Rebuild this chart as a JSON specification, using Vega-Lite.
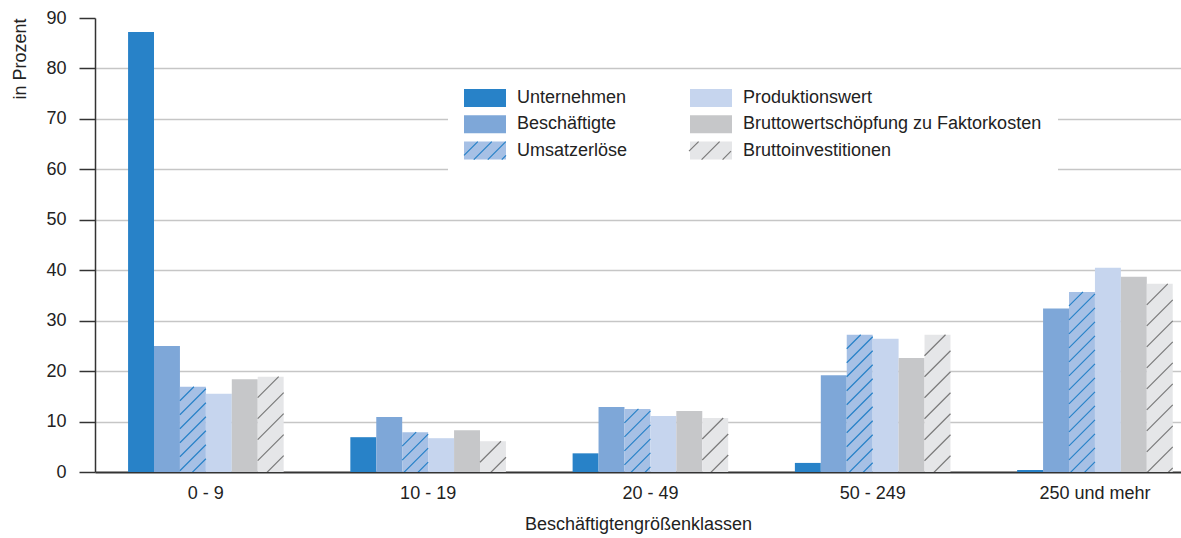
{
  "$schema": "https://vega.github.io/schema/vega-lite/v6.json",
  "width": 1086,
  "height": 454,
  "autosize": {"type": "none"},
  "padding": {"left": 95, "top": 18, "right": 0, "bottom": 66},
  "background": "white",
  "config": {
    "font": "Liberation Sans",
    "view": {"stroke": null},
    "axis": {"labelFont": "Liberation Sans", "titleFont": "Liberation Sans"},
    "legend": {"labelFont": "Liberation Sans"}
  },
  "data": {
    "values": [
      {"group": "0 - 9", "series": "Unternehmen", "value": 87.2},
      {"group": "0 - 9", "series": "Beschäftigte", "value": 25.0},
      {"group": "0 - 9", "series": "Umsatzerlöse", "value": 16.9},
      {"group": "0 - 9", "series": "Produktionswert", "value": 15.5},
      {"group": "0 - 9", "series": "Bruttowertschöpfung zu Faktorkosten", "value": 18.4},
      {"group": "0 - 9", "series": "Bruttoinvestitionen", "value": 18.9},
      {"group": "10 - 19", "series": "Unternehmen", "value": 6.9},
      {"group": "10 - 19", "series": "Beschäftigte", "value": 10.9},
      {"group": "10 - 19", "series": "Umsatzerlöse", "value": 7.9},
      {"group": "10 - 19", "series": "Produktionswert", "value": 6.7},
      {"group": "10 - 19", "series": "Bruttowertschöpfung zu Faktorkosten", "value": 8.3},
      {"group": "10 - 19", "series": "Bruttoinvestitionen", "value": 6.1},
      {"group": "20 - 49", "series": "Unternehmen", "value": 3.7},
      {"group": "20 - 49", "series": "Beschäftigte", "value": 12.9},
      {"group": "20 - 49", "series": "Umsatzerlöse", "value": 12.5},
      {"group": "20 - 49", "series": "Produktionswert", "value": 11.1},
      {"group": "20 - 49", "series": "Bruttowertschöpfung zu Faktorkosten", "value": 12.1},
      {"group": "20 - 49", "series": "Bruttoinvestitionen", "value": 10.7},
      {"group": "50 - 249", "series": "Unternehmen", "value": 1.8},
      {"group": "50 - 249", "series": "Beschäftigte", "value": 19.2},
      {"group": "50 - 249", "series": "Umsatzerlöse", "value": 27.2},
      {"group": "50 - 249", "series": "Produktionswert", "value": 26.4},
      {"group": "50 - 249", "series": "Bruttowertschöpfung zu Faktorkosten", "value": 22.6},
      {"group": "50 - 249", "series": "Bruttoinvestitionen", "value": 27.2},
      {"group": "250 und mehr", "series": "Unternehmen", "value": 0.4},
      {"group": "250 und mehr", "series": "Beschäftigte", "value": 32.4},
      {"group": "250 und mehr", "series": "Umsatzerlöse", "value": 35.7},
      {"group": "250 und mehr", "series": "Produktionswert", "value": 40.5},
      {"group": "250 und mehr", "series": "Bruttowertschöpfung zu Faktorkosten", "value": 38.7},
      {"group": "250 und mehr", "series": "Bruttoinvestitionen", "value": 37.3}
    ]
  },
  "encoding": {
    "x": {
      "field": "group",
      "type": "nominal",
      "sort": ["0 - 9", "10 - 19", "20 - 49", "50 - 249", "250 und mehr"],
      "scale": {"domain": ["0 - 9", "10 - 19", "20 - 49", "50 - 249", "250 und mehr"], "paddingInner": 0.3, "paddingOuter": 0.093, "align": 0.8},
      "axis": {
        "title": "Beschäftigtengrößenklassen",
        "labelAngle": 0,
        "ticks": false,
        "tickSize": 0,
        "domainColor": "#333333",
        "domainWidth": 2,
        "labelFontSize": 18,
        "labelColor": "#222222",
        "labelPadding": 12,
        "titleFontSize": 18,
        "titleFontWeight": "normal",
        "titleColor": "#222222",
        "titlePadding": 13,
        "grid": false
      }
    },
    "xOffset": {
      "field": "series",
      "type": "nominal",
      "scale": {"domain": ["Unternehmen", "Beschäftigte", "Umsatzerlöse", "Produktionswert", "Bruttowertschöpfung zu Faktorkosten", "Bruttoinvestitionen"], "paddingInner": 0, "paddingOuter": 0}
    },
    "y": {
      "field": "value",
      "type": "quantitative",
      "scale": {"domain": [0, 90], "nice": false},
      "axis": {
        "title": "in Prozent",
        "titleAnchor": "end",
        "titleFontSize": 18,
        "titleFontWeight": "normal",
        "titleColor": "#222222",
        "titlePadding": 16,
        "values": [0, 10, 20, 30, 40, 50, 60, 70, 80, 90],
        "tickSize": 16,
        "tickColor": "#333333",
        "tickWidth": 1.5,
        "domainColor": "#333333",
        "domainWidth": 1.5,
        "labelFontSize": 18,
        "labelColor": "#222222",
        "labelPadding": 13,
        "labelFlush": false,
        "gridColor": "#c6c6c6",
        "gridWidth": 1.6,
        "gridOpacity": {"condition": {"test": "datum.value > 0 && datum.value < 90", "value": 1}, "value": 0}
      }
    }
  },
  "layer": [
    {
      "mark": {"type": "bar"},
      "encoding": {
        "color": {
          "field": "series",
          "type": "nominal",
          "scale": {
            "domain": ["Unternehmen", "Beschäftigte", "Umsatzerlöse", "Produktionswert", "Bruttowertschöpfung zu Faktorkosten", "Bruttoinvestitionen"],
            "range": ["#2882c8", "#7ea7d8", "#a6c0e5", "#c6d5ee", "#c6c7c9", "#e5e6e8"]
          },
          "legend": {
            "orient": "none",
            "legendX": 353,
            "legendY": 55,
            "title": null,
            "columns": 2,
            "symbolType": "M-21,-9H21V9H-21Z",
            "symbolSize": 4,
            "symbolOffset": 12,
            "symbolStrokeWidth": 0,
            "symbolOpacity": 1,
            "labelFontSize": 18,
            "labelColor": "#222222",
            "labelOffset": 23,
            "labelLimit": 500,
            "columnPadding": 62,
            "rowPadding": 8.3,
            "padding": 16,
            "fillColor": "white",
            "zindex": 1
          }
        }
      }
    },
    {
      "transform": [{"filter": "datum.series === 'Umsatzerlöse'"}],
      "mark": {
        "type": "point",
        "shape": "M-13,14L1,0M-13,28L13,2M-13,42L13,16M-13,56L13,30M-13,70L13,44M-13,84L13,58M-13,98L13,72M-13,112L13,86M-13,126L13,100M-13,140L13,114M-13,154L13,128M-13,168L13,142M-13,182L13,156M-13,196L13,170M-13,210L13,184M-13,224L13,198",
        "filled": false,
        "size": 4,
        "clip": true,
        "strokeWidth": 1.2,
        "opacity": 1
      },
      "encoding": {
        "stroke": {
          "field": "series",
          "type": "nominal",
          "scale": {"domain": ["Umsatzerlöse"], "range": ["#2882c8"]},
          "legend": {
            "orient": "none",
            "legendX": 353,
            "legendY": 107.6,
            "title": null,
            "symbolType": "M-21,4.8L-7.2,-9M-11.2,9L6.8,-9M2.8,9L20.8,-9M16.8,9L21,4.8",
            "symbolSize": 4,
            "symbolOffset": 12,
            "symbolStrokeWidth": 1.2,
            "symbolFillColor": "transparent",
            "symbolOpacity": 1,
            "labelFontSize": 18,
            "labelOffset": 23,
            "labelExpr": "''",
            "padding": 16,
            "zindex": 2
          }
        }
      }
    },
    {
      "transform": [{"filter": "datum.series === 'Bruttoinvestitionen'"}],
      "mark": {
        "type": "point",
        "shape": "M-13,21L8,0M-13,42L13,16M-13,63L13,37M-13,84L13,58M-13,105L13,79M-13,126L13,100M-13,147L13,121M-13,168L13,142M-13,189L13,163M-13,210L13,184M-13,231L13,205",
        "filled": false,
        "size": 4,
        "clip": true,
        "strokeWidth": 1.2,
        "opacity": 1
      },
      "encoding": {
        "stroke": {
          "field": "series",
          "type": "nominal",
          "scale": {"domain": ["Bruttoinvestitionen"], "range": ["#7a7a7a"]},
          "legend": {
            "orient": "none",
            "legendX": 578,
            "legendY": 107.6,
            "title": null,
            "symbolType": "M-21,0.6L-11.4,-9M-8.4,9L9.6,-9M12.6,9L21,0.6",
            "symbolSize": 4,
            "symbolOffset": 12,
            "symbolStrokeWidth": 1.2,
            "symbolFillColor": "transparent",
            "symbolOpacity": 1,
            "labelFontSize": 18,
            "labelOffset": 23,
            "labelExpr": "''",
            "padding": 16,
            "zindex": 2
          }
        }
      }
    }
  ],
  "resolve": {"scale": {"stroke": "independent"}}
}
